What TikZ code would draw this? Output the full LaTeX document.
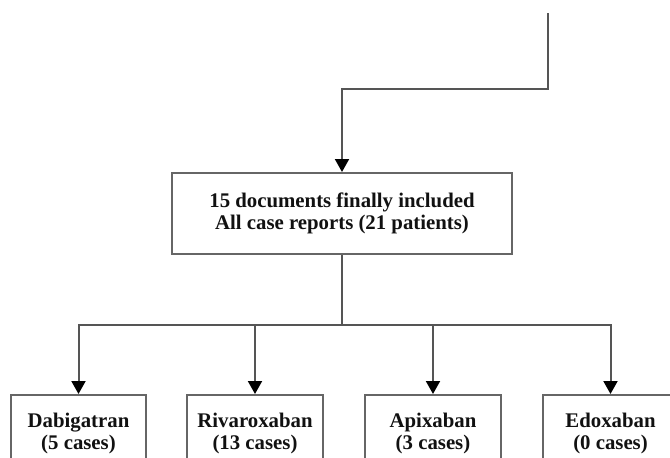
\documentclass[tikz,border=0pt]{standalone}
\usepackage{fontspec}
\setmainfont{Liberation Serif}
\usetikzlibrary{arrows.meta}
\definecolor{linegray}{HTML}{555555}
\definecolor{boxgray}{HTML}{666666}
\definecolor{txt}{HTML}{111111}
\tikzset{
  box/.style={draw=boxgray, line width=2pt, fill=white, align=center, text=txt,
    font=\bfseries\fontsize{20.8}{22.5}\selectfont, inner sep=0pt},
  conn/.style={draw=linegray, line width=2pt,
    -{Triangle[width=14pt,length=13pt,color=black]}},
  plain/.style={draw=linegray, line width=2pt}
}
\begin{document}
\begin{tikzpicture}[x=1pt,y=1pt]
\useasboundingbox (0,0) rectangle (670,-458);
\clip (0,0) rectangle (670,-458);
\fill[white] (0,0) rectangle (670,-458);

\node[box, minimum width=340pt, minimum height=81pt] (main) at (342,-213.5)
  {15 documents finally included\\All case reports (21 patients)};

\node[box, minimum width=135pt, minimum height=77pt, anchor=north] (c1) at (78.5,-394) {Dabigatran\\(5 cases)};
\node[box, minimum width=136pt, minimum height=77pt, anchor=north] (c2) at (255,-394) {Rivaroxaban\\(13 cases)};
\node[box, minimum width=136pt, minimum height=77pt, anchor=north] (c3) at (433,-394) {Apixaban\\(3 cases)};
\node[box, minimum width=135pt, minimum height=77pt, anchor=north] (c4) at (610.5,-394) {Edoxaban\\(0 cases)};

\coordinate (top) at (548,-13);
\draw[conn] (top) -- ++(0,-76) -| (main.north);

\draw[plain] (main.south) -- ++(0,-70) coordinate (split);
\draw[conn] (split) -| (c1.north);
\draw[conn] (split) -| (c2.north);
\draw[conn] (split) -| (c3.north);
\draw[conn] (split) -| (c4.north);
\end{tikzpicture}
\end{document}
